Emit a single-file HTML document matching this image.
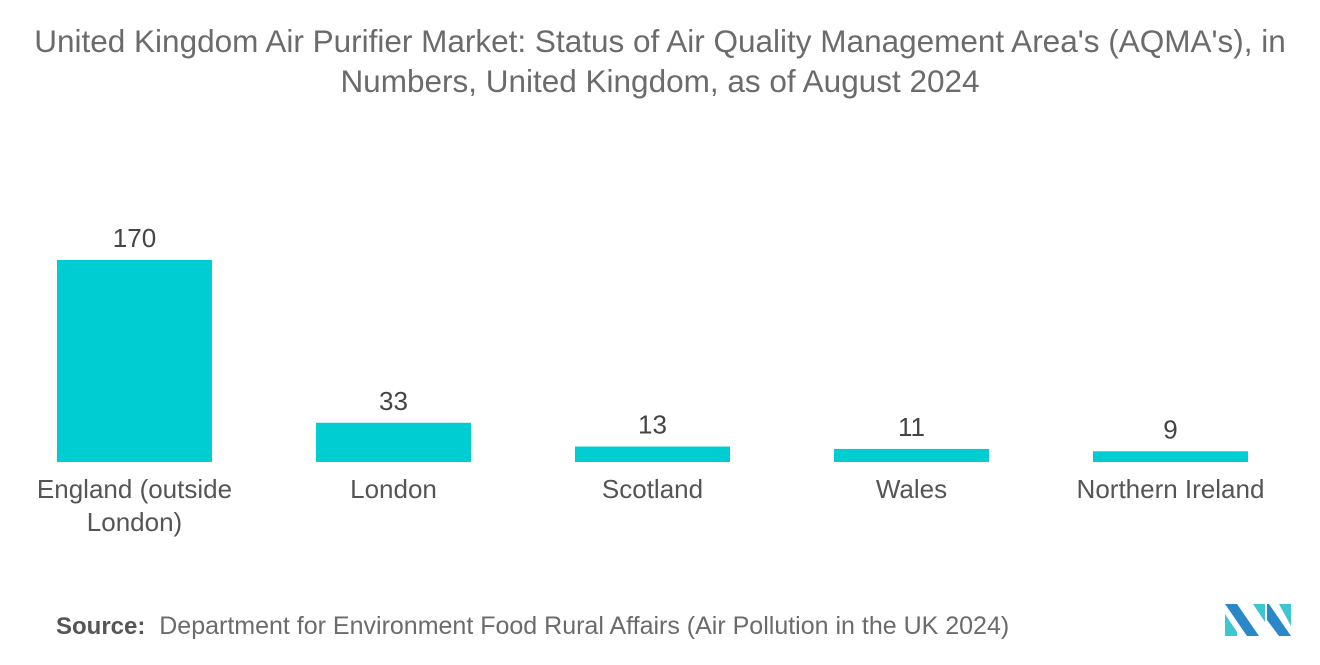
<!DOCTYPE html>
<html><head><meta charset="utf-8"><style>
body{margin:0;width:1320px;height:665px;background:#fff;font-family:"Liberation Sans",sans-serif;position:relative;overflow:hidden}
#title{position:absolute;left:0;top:21px;width:1320px;text-align:center;font-size:31.5px;line-height:40px;color:#6b6b6b;white-space:nowrap}
#source{position:absolute;left:56px;top:612px;font-size:25px;color:#6b6b6b;white-space:nowrap}
#source b{color:#555;font-weight:bold;font-size:24px}
</style></head><body>
<div id="title">United Kingdom Air Purifier Market: Status of Air Quality Management Area's (AQMA's), in<br>Numbers, United Kingdom, as of August 2024</div>
<svg id="chart" width="1320" height="665" style="position:absolute;left:0;top:0"></svg>
<div id="source"><b>Source:</b>&nbsp; Department for Environment Food Rural Affairs (Air Pollution in the UK 2024)</div>
<svg width="70" height="40" style="position:absolute;left:1223px;top:600px">
<polygon points="2,4 14,4 36,36 24,36" fill="#2a87c8"/><polygon points="2,14 14,32 14,36 2,36" fill="#3cc6cf"/>
<polygon points="30,4 42,4 42,22" fill="#3cc6cf"/><polygon points="46,4 68,36 56,36 44,20 44,4" fill="#2a87c8"/><polygon points="56,4 68,4 68,26" fill="#3cc6cf"/>
</svg>
<script>
const categories=["England (outside|London)","London","Scotland","Wales","Northern Ireland"];
const values=[170,33,13,11,9];
const svg=document.getElementById('chart');
const NS='http://www.w3.org/2000/svg';
const baseY=462, scale=202/170, x0=57, step=259, bw=155;
const y=v=>baseY-v*scale;
categories.forEach((c,i)=>{
  const r=document.createElementNS(NS,'rect');
  r.setAttribute('x',x0+i*step);r.setAttribute('y',y(values[i]));
  r.setAttribute('width',bw);r.setAttribute('height',baseY-y(values[i]));
  r.setAttribute('fill','#00cdd1');
  
  
  svg.appendChild(r);
  const cx=x0+i*step+bw/2;
  const t=document.createElementNS(NS,'text');
  t.setAttribute('x',cx);t.setAttribute('y',y(values[i])-13);
  t.setAttribute('text-anchor','middle');t.setAttribute('font-size','26');t.setAttribute('fill','#444');
  t.textContent=values[i];
  
  
  svg.appendChild(t);
  c.split('|').forEach((ln,k)=>{
    const l=document.createElementNS(NS,'text');
    l.setAttribute('x',cx);l.setAttribute('y',498+k*33);
    l.setAttribute('text-anchor','middle');l.setAttribute('font-size','26');l.setAttribute('fill','#555');
    l.textContent=ln;
    
    
    svg.appendChild(l);
  });
});
</script>
</body></html>
